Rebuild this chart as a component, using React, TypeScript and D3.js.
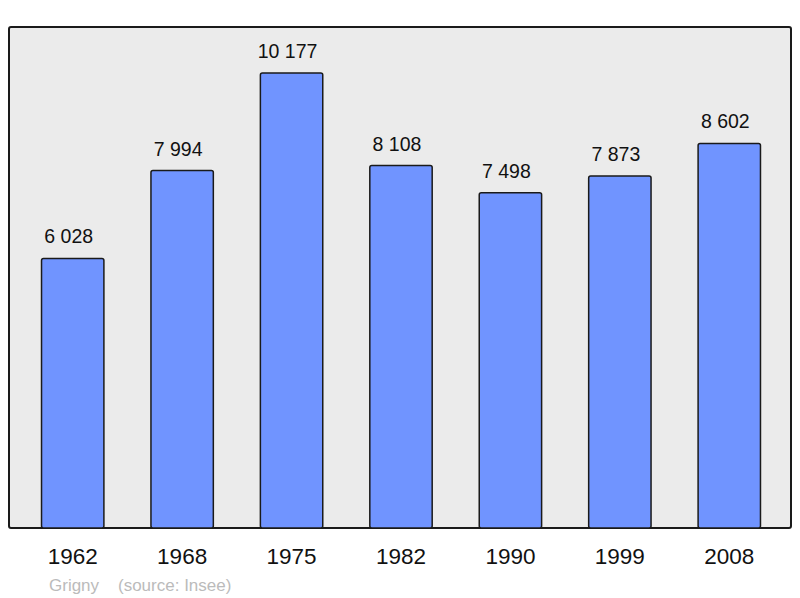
import { useMemo } from "react";
import { scaleBand, scaleLinear } from "d3";

const WIDTH = 800;
const HEIGHT = 598;
const FRAME = { left: 9, top: 27, right: 791, bottom: 528 };

const years = ["1962", "1968", "1975", "1982", "1990", "1999", "2008"];
const population = [6028, 7994, 10177, 8108, 7498, 7873, 8602];
const valueLabels = ["6 028", "7 994", "10 177", "8 108", "7 498", "7 873", "8 602"];
const town = "Grigny";
const source = "(source: Insee)";

const FONT = "'Liberation Sans', Arial, sans-serif";

export default function App() {
  const x = useMemo(
    () => scaleBand<string>().domain(years).range([18, 784]).paddingInner(0.43).paddingOuter(0.215),
    []
  );
  const y = useMemo(() => scaleLinear().domain([0, 10177]).range([FRAME.bottom, 73]), []);

  return (
    <svg
      width={WIDTH}
      height={HEIGHT}
      viewBox={`0 0 ${WIDTH} ${HEIGHT}`}
      style={{ position: "absolute", left: 0, top: 0, background: "#fff" }}
    >
      <rect
        x={FRAME.left}
        y={FRAME.top}
        width={FRAME.right - FRAME.left}
        height={FRAME.bottom - FRAME.top}
        rx="2"
        fill="#ebebeb"
        stroke="#1a1a1a"
        strokeWidth="2"
      />
      {years.map((year, i) => {
        const bx = x(year) ?? 0;
        const top = y(population[i]);
        const cx = bx + x.bandwidth() / 2;
        return (
          <g key={year}>
            <rect
              x={bx}
              y={top}
              width={x.bandwidth()}
              height={FRAME.bottom - top}
              rx="2"
              fill="#7094ff"
              stroke="#1a1a1a"
              strokeWidth="1.5"
            />
            <text x={cx - 4} y={top - 15} textAnchor="middle" fontFamily={FONT} fontSize="19.5" fill="#111">
              {valueLabels[i]}
            </text>
            <text x={cx} y={564} textAnchor="middle" fontFamily={FONT} fontSize="22.5" fill="#111">
              {year}
            </text>
          </g>
        );
      })}
      <text x={49} y={590.5} fontFamily={FONT} fontSize="17" fill="#bbbbbb">
        {town}
      </text>
      <text x={118} y={590.5} fontFamily={FONT} fontSize="17" fill="#bbbbbb">
        {source}
      </text>
    </svg>
  );
}
